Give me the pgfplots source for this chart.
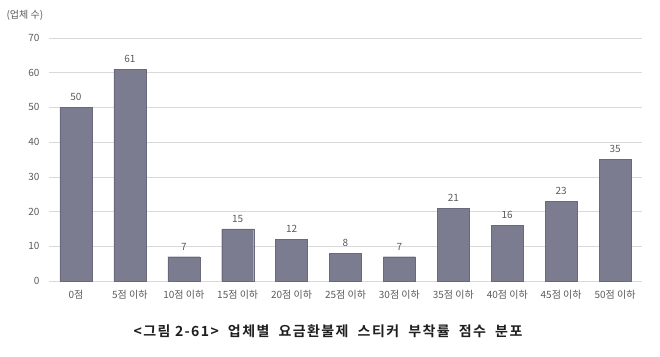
\documentclass[border=0pt]{standalone}
\usepackage{fontspec}
\setmainfont{Noto Sans CJK KR}
\newfontfamily\capfont{Noto Sans CJK KR Bold}[LetterSpace=10]
\usepackage{pgfplots}
\pgfplotsset{compat=1.18}
\definecolor{barc}{RGB}{124,124,145}
\definecolor{txt}{RGB}{90,90,90}
\begin{document}
\begin{tikzpicture}
\path[use as bounding box] (0,0) rectangle (660pt,356pt);
\begin{axis}[
  at={(49pt,75pt)}, anchor=south west,
  scale only axis, width=593pt, height=243pt,
  xmin=-0.5, xmax=10.5, ymin=0, ymax=70,
  ytick={0,10,...,70},
  xtick=data,
  xticklabels={0점,5점 이하,10점 이하,15점 이하,20점 이하,25점 이하,30점 이하,35점 이하,40점 이하,45점 이하,50점 이하},
  axis line style={draw=none},
  major tick length=0pt,
  ymajorgrids, major grid style={draw=black!15, line width=0.6pt},
  tick label style={font=\fontsize{10}{12}\selectfont, text=txt},
  /pgf/number format/assume math mode=true,
  yticklabel style={xshift=-6pt},
  xticklabel style={yshift=-6pt},
]
\addplot[ybar, bar width=32pt, fill=barc, draw=barc!85!black, line width=0.3pt, mark=none,
  nodes near coords,
  nodes near coords style={font=\fontsize{10}{12}\selectfont, text=txt, yshift=3pt}]
  coordinates {(0,50) (1,61) (2,7) (3,15) (4,12) (5,8) (6,7) (7,21) (8,16) (9,23) (10,35)};
\end{axis}
\node[anchor=west, font=\fontsize{10}{12}\selectfont, text=txt] at (3pt,341pt) {(업체 수)};
\node[font=\capfont\fontsize{14}{16}\selectfont, text=black!88] at (328pt,25pt) {<그림 2-61>\ \ 업체별\ \ 요금환불제\ \ 스티커\ \ 부착률\ \ 점수\ \ 분포};
\end{tikzpicture}
\end{document}
